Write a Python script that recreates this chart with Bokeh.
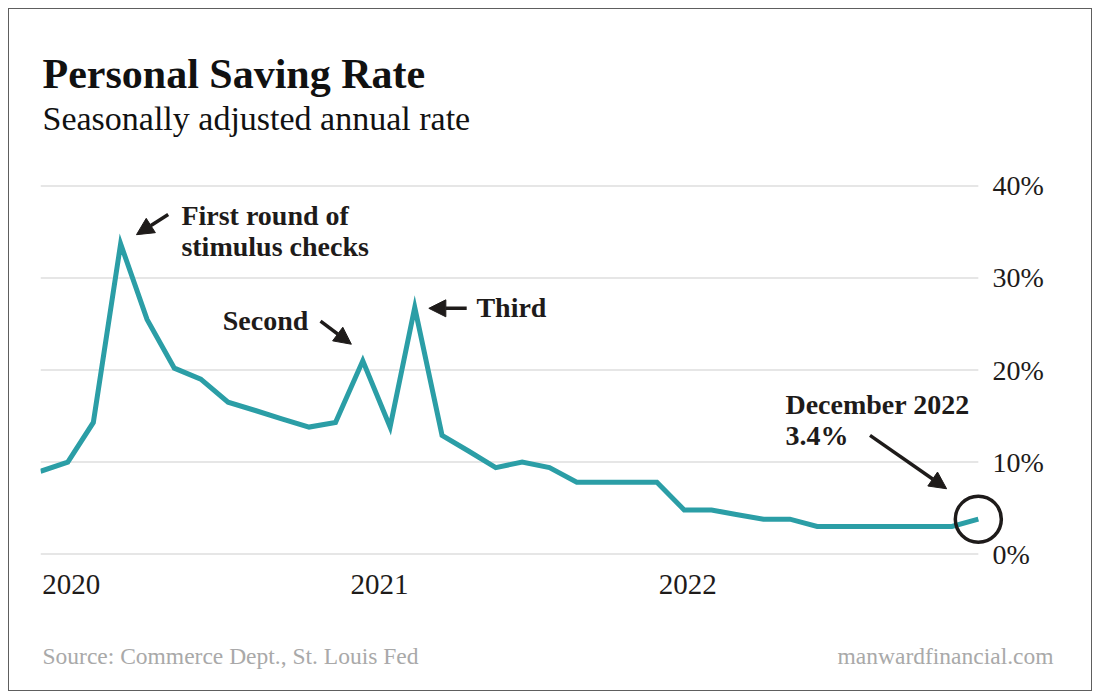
import pandas as pd
from bokeh.plotting import figure
from bokeh.layouts import column
from bokeh.models import (ColumnDataSource, Range1d, FixedTicker, DatetimeTickFormatter,
                          Label, Arrow, NormalHead)
from bokeh.core.properties import value
from bokeh.embed import file_html
from bokeh.resources import INLINE

# ---------------- data ----------------
months = pd.date_range("2020-01-01", "2022-12-01", freq="MS")
saving_rate = [9.0, 10.0, 14.3, 33.7, 25.5, 20.2, 19.0, 16.5, 15.6, 14.7, 13.8, 14.3,
               21.0, 13.8, 26.8, 12.9, 11.2, 9.4, 10.0, 9.4, 7.8, 7.8, 7.8, 7.8,
               4.8, 4.8, 4.3, 3.8, 3.8, 3.0, 3.0, 3.0, 3.0, 3.0, 3.0, 3.8]

y_ticks = [0, 10, 20, 30, 40]
y_tick_labels = ["0%", "10%", "20%", "30%", "40%"]
year_tick_dates = ["2020-02-05", "2021-01-20", "2022-01-05"]
year_labels = ["2020", "2021", "2022"]

note_texts = ["First round of", "stimulus checks", "Second", "Third", "December 2022", "3.4%"]
note_dates = ["2020-06-09", "2020-06-09", "2020-07-26", "2021-05-10", "2022-04-26", "2022-04-26"]
note_values = [36.8, 33.4, 25.4, 26.8, 16.3, 12.9]

arrow_start_dates = ["2020-05-25", "2020-11-14", "2021-04-29", "2022-07-31"]
arrow_start_values = [36.9, 25.3, 26.7, 12.9]
arrow_end_dates = ["2020-04-19", "2020-12-19", "2021-03-17", "2022-10-26"]
arrow_end_values = [34.7, 22.8, 26.7, 7.1]

title_text = "Personal Saving Rate"
subtitle_text = "Seasonally adjusted annual rate"
source_text = "Source: Commerce Dept., St. Louis Fed"
site_text = "manwardfinancial.com"

# ---------------- styling ----------------
TEAL = "#2b9ea6"
DARK = "#1e1b1a"
GRID = "#dedede"
FOOT = "#a9a9a9"
FONT = "Liberation Serif"
W = 1082


def ms(s):
    return pd.Timestamp(s).value // 10**6


def text_panel(height):
    f = figure(width=W, height=height, x_range=Range1d(0, W), y_range=Range1d(0, height),
               x_axis_location=None, y_axis_location=None, toolbar_location=None,
               output_backend="svg", min_border=0, frame_align=False)
    f.outline_line_color = None
    f.grid.visible = False
    f.background_fill_color = "white"
    f.border_fill_color = "white"
    return f


# ---------------- header ----------------
header = text_panel(141)
header.add_layout(Label(x=33, y=77, text=title_text, text_font=FONT,
                        text_font_style="bold", text_font_size="42px", text_color="#111111",
                        text_align="left", text_baseline="alphabetic"))
header.add_layout(Label(x=33, y=32, text=subtitle_text, text_font=FONT,
                        text_font_size="34px", text_color="#111111",
                        text_align="left", text_baseline="alphabetic"))

# ---------------- main chart ----------------
p = figure(width=W, height=480, x_axis_type="datetime", y_axis_location="right",
           x_range=Range1d(ms("2020-01-01"), ms("2023-01-02")),
           y_range=Range1d(-0.15, 40.15),
           toolbar_location=None, output_backend="svg", frame_align=False,
           min_border_left=31, min_border_right=85, min_border_top=34, min_border_bottom=75)
p.outline_line_color = None
p.grid.visible = False
p.background_fill_color = "white"
p.border_fill_color = "white"

grid_src = ColumnDataSource(dict(x0=[months[0]] * len(y_ticks), x1=[months[-1]] * len(y_ticks),
                                 y=y_ticks))
p.segment(x0="x0", y0="y", x1="x1", y1="y", source=grid_src, line_color=GRID, line_width=1.5)

src = ColumnDataSource(dict(x=months, y=saving_rate))
p.line("x", "y", source=src, line_color=TEAL, line_width=5, line_join="miter")

p.scatter(x=[months[-1]], y=[saving_rate[-1]], marker="circle", size=46,
          fill_color=None, line_color=DARK, line_width=3.5)

arrow_src = ColumnDataSource(dict(x0=pd.to_datetime(arrow_start_dates), y0=arrow_start_values,
                                  x1=pd.to_datetime(arrow_end_dates), y1=arrow_end_values))
p.add_layout(Arrow(end=NormalHead(size=17, fill_color=DARK, line_color=DARK, line_width=1),
                   x_start="x0", y_start="y0", x_end="x1", y_end="y1", source=arrow_src,
                   line_color=DARK, line_width=3.5))

note_src = ColumnDataSource(dict(x=pd.to_datetime(note_dates), y=note_values, t=note_texts))
p.text(x="x", y="y", text="t", source=note_src, text_font=value(FONT),
       text_font_style="bold", text_font_size="28px", text_color=DARK,
       text_align="left", text_baseline="alphabetic")

p.yaxis.ticker = FixedTicker(ticks=y_ticks)
p.yaxis.major_label_overrides = dict(zip(y_ticks, y_tick_labels))
p.yaxis.axis_line_color = None
p.yaxis.major_tick_line_color = None
p.yaxis.minor_tick_line_color = None
p.yaxis.major_tick_out = 0
p.yaxis.major_tick_in = 0
p.yaxis.major_label_standoff = -14
p.yaxis.major_label_text_font = FONT
p.yaxis.major_label_text_font_size = "28px"
p.yaxis.major_label_text_color = DARK

x_tick_ms = [ms(d) for d in year_tick_dates]
p.xaxis.ticker = FixedTicker(ticks=x_tick_ms)
p.xaxis.formatter = DatetimeTickFormatter(days="%Y", months="%Y", years="%Y")
p.xaxis.major_label_overrides = dict(zip(x_tick_ms, year_labels))
p.xaxis.axis_line_color = None
p.xaxis.major_tick_line_color = None
p.xaxis.minor_tick_line_color = None
p.xaxis.major_tick_out = 0
p.xaxis.major_tick_in = 0
p.xaxis.major_label_standoff = 19
p.xaxis.major_label_text_font = FONT
p.xaxis.major_label_text_font_size = "29px"
p.xaxis.major_label_text_color = DARK

# ---------------- footer ----------------
footer = text_panel(60)
footer.add_layout(Label(x=33, y=35, text=source_text, text_font=FONT,
                        text_font_size="23.5px", text_color=FOOT,
                        text_align="left", text_baseline="alphabetic"))
footer.add_layout(Label(x=1044, y=35, text=site_text, text_font=FONT,
                        text_font_size="23.5px", text_color=FOOT,
                        text_align="right", text_baseline="alphabetic"))

page = column(header, p, footer, spacing=0,
              styles={"border": "1px solid #5e5e5e", "margin": "8px",
                      "background-color": "white"})

open("out.html", "w").write(file_html(page, INLINE))
